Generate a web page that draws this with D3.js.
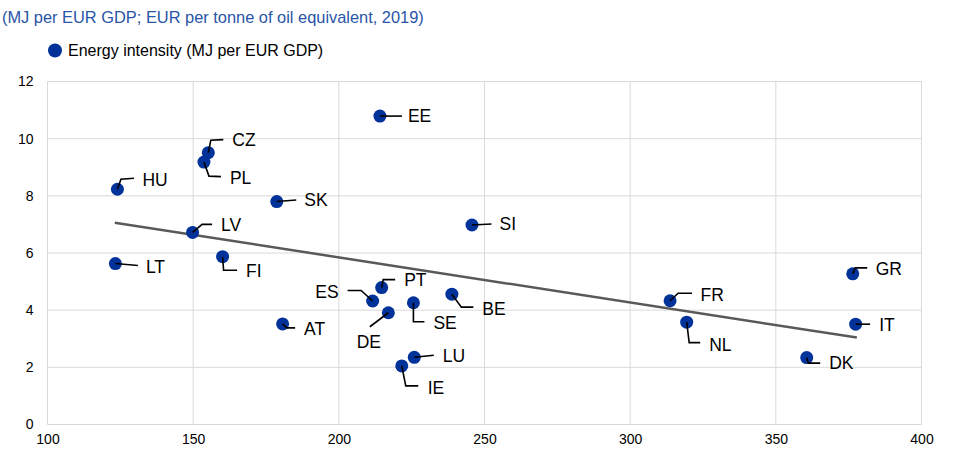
<!DOCTYPE html>
<html>
<head>
<meta charset="utf-8">
<script src="https://cdn.jsdelivr.net/npm/d3@7"></script>
<style>
    body { margin: 0; background: #fff; }
    svg text { font-family: "Liberation Sans", Arial, sans-serif; }
</style>
</head>
<body>
<div id="wrapper"></div>
<script>
// EUR per tonne of oil equivalent (x) vs energy intensity, MJ per EUR GDP (y), 2019
const countries = ["EE", "CZ", "PL", "HU", "SK", "SI", "LV", "FI", "LT", "GR", "PT",
    "ES", "SE", "BE", "FR", "DE", "AT", "NL", "IT", "LU", "IE", "DK"]
const eurPerToe = [214.1, 155.2, 153.7, 124.0, 178.7, 245.7, 149.8, 160.1, 123.3, 376.4, 214.7,
    211.6, 225.6, 238.8, 313.7, 217.0, 180.7, 319.4, 377.4, 225.9, 221.6, 360.6]
const energyIntensity = [10.79, 9.51, 9.18, 8.23, 7.80, 6.98, 6.72, 5.87, 5.63, 5.27, 4.79,
    4.32, 4.26, 4.56, 4.33, 3.91, 3.52, 3.58, 3.51, 2.35, 2.05, 2.34]

// linear trend line end points
const trendX = [123.1, 377.8]
const trendY = [7.06, 3.04]

const xTicks = [100, 150, 200, 250, 300, 350, 400]
const yTicks = [0, 2, 4, 6, 8, 10, 12]

const titleText = "(MJ per EUR GDP; EUR per tonne of oil equivalent, 2019)"
const legendText = "Energy intensity (MJ per EUR GDP)"

// label leader layout, pixel offsets from the dot: leader points, text position, anchor
const labelLayout = {
    EE: { path: [[22, 0]], text: [28, 0], anchor: "start" },
    CZ: { path: [[2.5, -12.5], [15, -13]], text: [24, -13], anchor: "start" },
    PL: { path: [[5, 14], [17, 14.5]], text: [26, 15.5], anchor: "start" },
    HU: { path: [[3.5, -10], [16.5, -11]], text: [25, -9.5], anchor: "start" },
    SK: { path: [[19.5, -1.5]], text: [27.5, -1.5], anchor: "start" },
    SI: { path: [[19.5, -1]], text: [27.5, -1], anchor: "start" },
    LV: { path: [[9.5, -8], [19.5, -8]], text: [28.5, -7.5], anchor: "start" },
    FI: { path: [[1, 13.5], [14.5, 13.5]], text: [23.5, 14], anchor: "start" },
    LT: { path: [[22.5, 2]], text: [30.5, 3], anchor: "start" },
    GR: { path: [[2.5, -6], [14.5, -6]], text: [23, -5], anchor: "start" },
    PT: { path: [[1.5, -8], [13.5, -8]], text: [22.5, -7.5], anchor: "start" },
    ES: { path: [[-11.5, -10.5], [-25, -10.5]], text: [-34, -9.5], anchor: "end" },
    SE: { path: [[0, 19], [11, 19]], text: [20, 20], anchor: "start" },
    BE: { path: [[9.5, 13], [21.5, 13]], text: [30.5, 14.5], anchor: "start" },
    FR: { path: [[8, -7.5], [22, -7.5]], text: [30.5, -6.5], anchor: "start" },
    DE: { path: [[-18.5, 14]], text: [-19.5, 28.5], anchor: "middle" },
    AT: { path: [[4, 4], [12.5, 4]], text: [21.5, 5], anchor: "start" },
    NL: { path: [[2.5, 20.5], [13.5, 20.5]], text: [22.5, 22.5], anchor: "start" },
    IT: { path: [[14.5, 0]], text: [23.5, 1], anchor: "start" },
    LU: { path: [[19.5, -2]], text: [28.5, -1.5], anchor: "start" },
    IE: { path: [[4, 20], [16.5, 20]], text: [26, 21.5], anchor: "start" },
    DK: { path: [[1.5, 5.5], [13.5, 5.5]], text: [22.5, 5.5], anchor: "start" },
}

const dataset = countries.map((c, i) => ({ country: c, x: eurPerToe[i], y: energyIntensity[i] }))

const dimensions = {
    width: 957,
    height: 471,
    margin: { top: 81.5, right: 35.5, bottom: 46.5, left: 47.5 },
}
dimensions.boundedWidth = dimensions.width - dimensions.margin.left - dimensions.margin.right
dimensions.boundedHeight = dimensions.height - dimensions.margin.top - dimensions.margin.bottom

const svg = d3.select("#wrapper")
    .append("svg")
    .attr("width", dimensions.width)
    .attr("height", dimensions.height)

const blue = "#003299"

svg.append("text")
    .attr("x", 2)
    .attr("y", 22.5)
    .attr("font-size", "16.4px")
    .attr("fill", "#2a55a8")
    .text(titleText)

svg.append("circle")
    .attr("cx", 55)
    .attr("cy", 50.5)
    .attr("r", 7)
    .attr("fill", blue)

svg.append("text")
    .attr("x", 68)
    .attr("y", 56)
    .attr("font-size", "16px")
    .attr("fill", "#000")
    .text(legendText)

const bounds = svg.append("g")
    .attr("transform", `translate(${dimensions.margin.left},${dimensions.margin.top})`)

const xScale = d3.scaleLinear()
    .domain([100, 400])
    .range([0, dimensions.boundedWidth])

const yScale = d3.scaleLinear()
    .domain([0, 12])
    .range([dimensions.boundedHeight, 0])

// gridlines
bounds.append("g")
    .selectAll("line")
    .data(yTicks)
    .join("line")
    .attr("x1", 0)
    .attr("x2", dimensions.boundedWidth)
    .attr("y1", d => yScale(d))
    .attr("y2", d => yScale(d))
    .attr("stroke", "#d9d9d9")
    .attr("stroke-width", 1)

bounds.append("g")
    .selectAll("line")
    .data(xTicks)
    .join("line")
    .attr("x1", d => xScale(d))
    .attr("x2", d => xScale(d))
    .attr("y1", 0)
    .attr("y2", dimensions.boundedHeight)
    .attr("stroke", "#d9d9d9")
    .attr("stroke-width", 1)

// axes (labels only)
const xAxis = bounds.append("g")
    .attr("transform", `translate(0,${dimensions.boundedHeight})`)
    .call(d3.axisBottom(xScale).tickValues(xTicks).tickSize(0).tickPadding(10))
xAxis.select(".domain").remove()
xAxis.selectAll("text")
    .attr("font-size", "14px")
    .attr("font-family", "Liberation Sans, Arial, sans-serif")
    .attr("fill", "#000")

const yAxis = bounds.append("g")
    .call(d3.axisLeft(yScale).tickValues(yTicks).tickSize(0).tickPadding(14))
yAxis.select(".domain").remove()
yAxis.selectAll("text")
    .attr("font-size", "14px")
    .attr("font-family", "Liberation Sans, Arial, sans-serif")
    .attr("fill", "#000")

// trend line
bounds.append("line")
    .attr("x1", xScale(trendX[0]))
    .attr("y1", yScale(trendY[0]))
    .attr("x2", xScale(trendX[1]))
    .attr("y2", yScale(trendY[1]))
    .attr("stroke", "#595959")
    .attr("stroke-width", 2.5)

// dots
bounds.append("g")
    .selectAll("circle")
    .data(dataset)
    .join("circle")
    .attr("cx", d => xScale(d.x))
    .attr("cy", d => yScale(d.y))
    .attr("r", 6.5)
    .attr("fill", blue)

// leader lines and labels
const labels = bounds.append("g")
    .selectAll("g")
    .data(dataset)
    .join("g")
    .attr("transform", d => `translate(${xScale(d.x)},${yScale(d.y)})`)

labels.append("path")
    .attr("d", d => d3.line()([[0, 0], ...labelLayout[d.country].path]))
    .attr("fill", "none")
    .attr("stroke", "#000")
    .attr("stroke-width", 1.6)

labels.append("text")
    .attr("x", d => labelLayout[d.country].text[0])
    .attr("y", d => labelLayout[d.country].text[1])
    .attr("dy", "0.36em")
    .attr("text-anchor", d => labelLayout[d.country].anchor)
    .attr("font-size", "17.5px")
    .attr("fill", "#000")
    .text(d => d.country)
</script>
</body>
</html>
